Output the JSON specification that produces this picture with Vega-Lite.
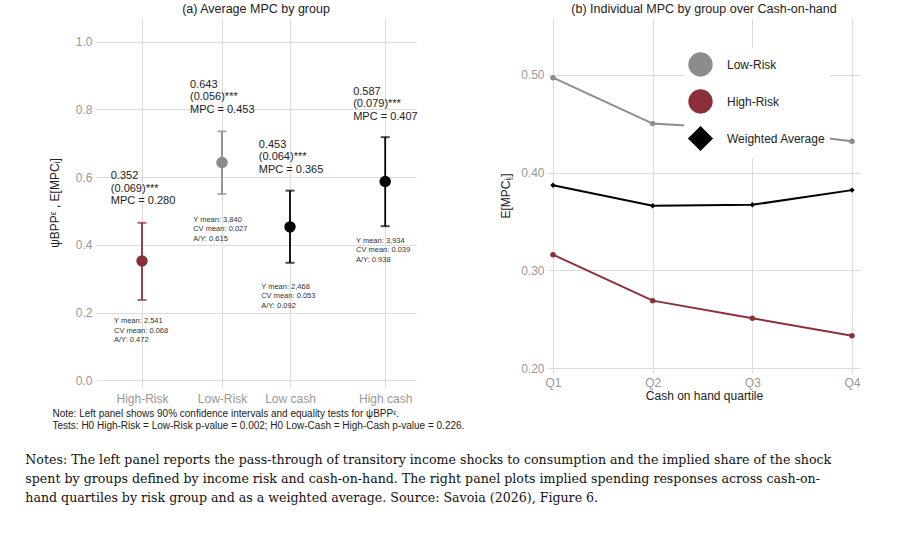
{
"$schema": "https://vega.github.io/schema/vega-lite/v6.json",
"background": "white",
"padding": {"left": 25, "top": 2, "right": 5, "bottom": 5},
"resolve": {"scale": {"color": "independent", "shape": "independent"}, "legend": {"color": "independent"}},
"config": {"view": {"stroke": null}, "font": "Liberation Sans",
  "axis": {"domain": false, "ticks": false, "gridColor": "#dcdcdc", "labelColor": "#999999", "labelFontSize": 12, "titleFontWeight": "normal", "titleColor": "#222", "titleFontSize": 12},
  "title": {"fontWeight": "normal", "fontSize": 12.5, "color": "#222"}},
"title": {"text": ["Notes: The left panel reports the pass-through of transitory income shocks to consumption and the implied share of the shock", "spent by groups defined by income risk and cash-on-hand. The right panel plots implied spending responses across cash-on-", "hand quartiles by risk group and as a weighted average. Source: Savoia (2026), Figure 6."], "orient": "bottom", "anchor": "start", "font": "DejaVu Serif", "fontSize": 12.6, "lineHeight": 19, "offset": 24, "dx": -23, "fontWeight": "normal", "color": "#111"},
"datasets": {
  "avg": [
    {"g": "High-Risk", "x": 1, "v": 0.352, "lo": 0.237, "hi": 0.465},
    {"g": "Low-Risk", "x": 2, "v": 0.643, "lo": 0.55, "hi": 0.735},
    {"g": "Low cash", "x": 2.85, "v": 0.453, "lo": 0.347, "hi": 0.56},
    {"g": "High cash", "x": 4.04, "v": 0.587, "lo": 0.455, "hi": 0.718}
  ],
  "big": [
    {"lx": 0.61, "ly": 0.62, "t": "0.352\n(0.069)***\nMPC = 0.280"},
    {"lx": 1.6, "ly": 0.89, "t": "0.643\n(0.056)***\nMPC = 0.453"},
    {"lx": 2.46, "ly": 0.713, "t": "0.453\n(0.064)***\nMPC = 0.365"},
    {"lx": 3.64, "ly": 0.87, "t": "0.587\n(0.079)***\nMPC = 0.407"}
  ],
  "small": [
    {"lx": 0.65, "ly": 0.186, "t": "Y mean: 2,541\nCV mean: 0.068\nA/Y: 0.472"},
    {"lx": 1.64, "ly": 0.485, "t": "Y mean: 3,840\nCV mean: 0.027\nA/Y: 0.615"},
    {"lx": 2.49, "ly": 0.287, "t": "Y mean: 2,468\nCV mean: 0.053\nA/Y: 0.092"},
    {"lx": 3.675, "ly": 0.423, "t": "Y mean: 3,934\nCV mean: 0.039\nA/Y: 0.938"}
  ],
  "quart": [
    {"q": 1, "s": "Low-Risk", "v": 0.497}, {"q": 2, "s": "Low-Risk", "v": 0.450}, {"q": 3, "s": "Low-Risk", "v": 0.444}, {"q": 4, "s": "Low-Risk", "v": 0.432},
    {"q": 1, "s": "High-Risk", "v": 0.316}, {"q": 2, "s": "High-Risk", "v": 0.269}, {"q": 3, "s": "High-Risk", "v": 0.251}, {"q": 4, "s": "High-Risk", "v": 0.233},
    {"q": 1, "s": "Weighted Average", "v": 0.387}, {"q": 2, "s": "Weighted Average", "v": 0.366}, {"q": 3, "s": "Weighted Average", "v": 0.367}, {"q": 4, "s": "Weighted Average", "v": 0.382}
  ]
},
"hconcat": [
  {
    "width": 320, "height": 369,
    "title": {"text": "(a) Average MPC by group", "offset": 3},
    "layer": [
      {"data": {"name": "avg"}, "mark": {"type": "rule", "strokeWidth": 1.8},
       "encoding": {
         "x": {"field": "x", "type": "quantitative", "scale": {"domain": [0.425, 4.425], "nice": false, "zero": false},
           "axis": {"values": [1, 2, 2.85, 4.04], "labelExpr": "datum.value == 1 ? 'High-Risk' : datum.value == 2 ? 'Low-Risk' : datum.value == 2.85 ? 'Low cash' : 'High cash'", "labelPadding": 6,
             "title": ["Note: Left panel shows 90% confidence intervals and equality tests for ψBPPᵋ.", "Tests: H0 High-Risk = Low-Risk p-value =  0.002; H0 Low-Cash = High-Cash p-value = 0.226."],
             "titleFontSize": 10, "titleAnchor": "start", "titleAlign": "left", "titleX": -44, "titlePadding": 4, "titleLineHeight": 12}},
         "y": {"field": "lo", "type": "quantitative", "scale": {"domain": [-0.02, 1.07], "nice": false},
           "axis": {"values": [0, 0.2, 0.4, 0.6, 0.8, 1.0], "format": ".1f", "title": "ψBPPᵋ , E[MPCᵢ]", "titlePadding": 14, "labelPadding": 4}},
         "y2": {"field": "hi"},
         "color": {"field": "g", "type": "nominal", "scale": {"domain": ["High-Risk", "Low-Risk", "Low cash", "High cash"], "range": ["#8B2F3A", "#8c8c8c", "#000000", "#000000"]}, "legend": null}
       }},
      {"data": {"name": "avg"}, "mark": {"type": "tick", "orient": "horizontal", "size": 9, "thickness": 2},
       "encoding": {"x": {"field": "x", "type": "quantitative"}, "y": {"field": "lo", "type": "quantitative"},
         "color": {"field": "g", "type": "nominal", "legend": null}}},
      {"data": {"name": "avg"}, "mark": {"type": "tick", "orient": "horizontal", "size": 9, "thickness": 2},
       "encoding": {"x": {"field": "x", "type": "quantitative"}, "y": {"field": "hi", "type": "quantitative"},
         "color": {"field": "g", "type": "nominal", "legend": null}}},
      {"data": {"name": "avg"}, "mark": {"type": "circle", "size": 130, "opacity": 1},
       "encoding": {"x": {"field": "x", "type": "quantitative"}, "y": {"field": "v", "type": "quantitative"},
         "color": {"field": "g", "type": "nominal", "legend": null}}},
      {"data": {"name": "big"}, "mark": {"type": "text", "align": "left", "baseline": "top", "fontSize": 11, "lineHeight": 12.5, "lineBreak": "\n", "color": "#222"},
       "encoding": {"x": {"field": "lx", "type": "quantitative"}, "y": {"field": "ly", "type": "quantitative"}, "text": {"field": "t"}}},
      {"data": {"name": "small"}, "mark": {"type": "text", "align": "left", "baseline": "top", "fontSize": 7.5, "lineHeight": 9.3, "lineBreak": "\n", "color": "#333"},
       "encoding": {"x": {"field": "lx", "type": "quantitative"}, "y": {"field": "ly", "type": "quantitative"}, "text": {"field": "t"}}}
    ]
  },
  {
    "width": 312, "height": 355,
    "title": {"text": "(b) Individual MPC by group over Cash-on-hand", "offset": 3},
    "data": {"name": "quart"},
    "encoding": {
      "x": {"field": "q", "type": "quantitative", "scale": {"domain": [0.95, 4.08], "nice": false, "zero": false},
        "axis": {"values": [1, 2, 3, 4], "labelExpr": "'Q' + datum.value", "title": "Cash on hand quartile", "titlePadding": 2, "labelPadding": 4}},
      "y": {"field": "v", "type": "quantitative", "scale": {"domain": [0.195, 0.558], "nice": false, "zero": false},
        "axis": {"values": [0.2, 0.3, 0.4, 0.5], "format": ".2f", "title": "E[MPCᵢⱼ]", "titlePadding": 8, "labelPadding": 4}},
      "color": {"field": "s", "type": "nominal", "title": null,
        "scale": {"domain": ["Low-Risk", "High-Risk", "Weighted Average"], "range": ["#8c8c8c", "#8B2F3A", "#000000"]},
        "legend": {"orient": "top-right", "symbolType": "stroke", "symbolStrokeWidth": 2, "symbolSize": 500, "labelFontSize": 12, "labelColor": "#222", "fillColor": "white", "padding": 4, "offset": 30, "rowPadding": 6, "labelOffset": 14}}
    },
    "layer": [
      {"mark": {"type": "line", "strokeWidth": 2}},
      {"mark": {"type": "point", "filled": true, "size": 30, "opacity": 1}, "encoding": {"shape": {"field": "s", "type": "nominal", "scale": {"domain": ["Low-Risk", "High-Risk", "Weighted Average"], "range": ["circle", "circle", "diamond"]}, "legend": null}}}
    ]
  }
],
"spacing": 32
}
